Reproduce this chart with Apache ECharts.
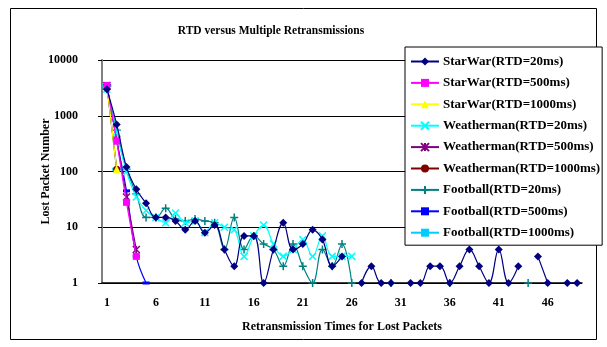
<!DOCTYPE html>
<html><head><meta charset="utf-8">
<script src="https://cdn.jsdelivr.net/npm/echarts@6/dist/echarts.min.js"></script>
<style>html,body{margin:0;padding:0;background:#fff}#c{width:607px;height:347px}</style>
</head><body><div id="c"></div>
<script>
var categories = [];
for (var i = 1; i <= 49; i++) categories.push(String(i));
var xTickLabels = ['1','6','11','16','21','26','31','36','41','46'];
var yTickLabels = ['1','10','100','1000','10000'];

var starWar20 = [3000, 700, 120, 48, 27, 15, 15, 13, 9, 13, 8, 11, 4, 2, 7, 7, 1, 4, 12, 4, 5, 9, 6, 2, 3, null, 1, 2, 1, 1, null, 1, 1, 2, 2, 1, 2, 4, 2, 1, 4, 1, 2, null, 3, 1, null, 1, 1];
var starWar500 = [3500, 350, 28, 3];
var starWar1000 = [3500, 110];
var weatherman20 = [3000, 500, 100, 35, 20, 15, 12, 18, 12, 13, 8, 12, 10, 9, 3, 7, 11, 5, 3, 4, 6, 3, 7, 3, 3, 3];
var weatherman500 = [3500, 370, 35, 4];
var weatherman1000 = [3500, 110];
var football20 = [3000, 550, 110, 40, 15, 15, 22, 14, 13, 14, 13, 12, 4, 15, 4, 7, 5, 4, 2, 5, 2, 1, 4, 2, 5, 1, null, null, null, 1, null, null, null, null, null, 1, null, null, null, null, null, null, null, 1];
var football500 = [3500, 370, 45, 3, 1];
var football1000 = [3500, 110];

var seriesNames = ['StarWar(RTD=20ms)','StarWar(RTD=500ms)','StarWar(RTD=1000ms)','Weatherman(RTD=20ms)','Weatherman(RTD=500ms)','Weatherman(RTD=1000ms)','Football(RTD=20ms)','Football(RTD=500ms)','Football(RTD=1000ms)'];
var seriesData = [starWar20, starWar500, starWar1000, weatherman20, weatherman500, weatherman1000, football20, football500, football1000];
var colors = ['#000080','#FF00FF','#FFFF00','#00FFFF','#800080','#800000','#008080','#0000FF','#00CCFF'];
var symbols = ['diamond','rect','triangle','path://M0,0L10,10M10,0L0,10','path://M0,0L10,10M10,0L0,10M5,0L5,10','circle','path://M5,0L5,10M0,5L10,5','rect','rect'];
var symbolSizes = [8,7,8,7,7,7,8,[7,3],[9,3]];
var stroked = [false,false,false,true,true,false,true,false,false];

var FONT = '"Liberation Serif","Times New Roman",serif';

var series = seriesNames.map(function(n, k){
  return {
    name: n, type: 'line', data: seriesData[k], smooth: 0.4,
    symbol: symbols[k], symbolSize: symbolSizes[k], showSymbol: true, showAllSymbol: true,
    lineStyle: {color: colors[k], width: 1.2},
    itemStyle: stroked[k] ? {color: colors[k], borderColor: colors[k], borderWidth: 1.5} : {color: colors[k]},
    emphasis: {disabled: true},
    z: 10 - k
  };
});

var chart = echarts.init(document.getElementById('c'));
chart.setOption({
  animation: false,
  backgroundColor: '#fff',
  graphic: [{type: 'rect', shape: {x: 10.5, y: 8.5, width: 586, height: 331}, style: {fill: 'none', stroke: '#000', lineWidth: 1}, z: -1}],
  title: {text: 'RTD versus Multiple Retransmissions', left: 266, top: 20, textAlign: 'center',
    textStyle: {fontFamily: FONT, fontWeight: 'bold', fontSize: 11.5, color: '#000'}},
  legend: {
    orient: 'vertical', left: 405, top: 47, data: seriesNames,
    borderColor: '#000', borderWidth: 1, backgroundColor: '#fff',
    padding: [8, 2, 6, 5], itemGap: 8.4, itemWidth: 28, itemHeight: 10,
    textStyle: {fontFamily: FONT, fontWeight: 'bold', fontSize: 13, lineHeight: 13, color: '#000', padding: [0,0,0,-1]},
    z: 20
  },
  grid: {left: 102, right: 25, top: 60, bottom: 64},
  xAxis: {
    type: 'category', data: categories, boundaryGap: true,
    name: 'Retransmission Times for Lost Packets', nameLocation: 'middle', nameGap: 38, nameMoveOverlap: false,
    nameTextStyle: {fontFamily: FONT, fontWeight: 'bold', fontSize: 12, color: '#000'},
    axisLine: {lineStyle: {color: '#000', width: 1.5}},
    axisTick: {inside: true, length: 4, interval: 0, lineStyle: {color: '#000'}},
    axisLabel: {interval: 4, margin: 14, fontFamily: FONT, fontWeight: 'bold', fontSize: 12, color: '#000',
      formatter: function(v){ return xTickLabels.indexOf(v) >= 0 ? v : ''; }},
    splitLine: {show: false}
  },
  yAxis: {
    type: 'log', logBase: 10, min: 1, max: 10000,
    name: 'Lost Packet Number', nameLocation: 'middle', nameGap: 50, nameRotate: 90, nameMoveOverlap: false,
    nameTextStyle: {fontFamily: FONT, fontWeight: 'bold', fontSize: 12, color: '#000'},
    axisLine: {show: true, lineStyle: {color: '#808080', width: 2}},
    axisTick: {show: true, length: 4, lineStyle: {color: '#000'}},
    axisLabel: {margin: 24, fontFamily: FONT, fontWeight: 'bold', fontSize: 12, color: '#000',
      formatter: function(v){ var s = String(Math.round(v)); return yTickLabels.indexOf(s) >= 0 ? s : ''; }},
    splitLine: {show: true, lineStyle: {color: '#000', width: 1}},
    minorTick: {show: false}
  },
  series: series
});
</script>
</body></html>
